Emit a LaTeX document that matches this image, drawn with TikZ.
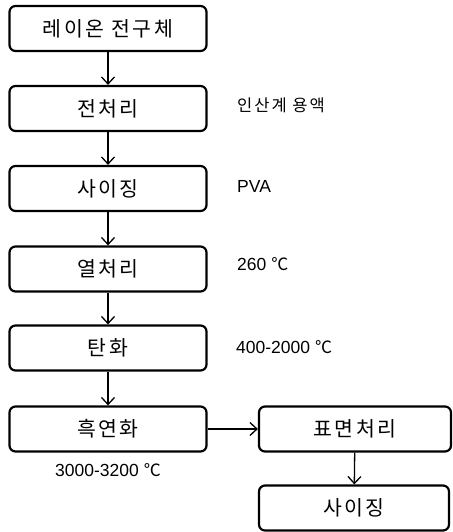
\documentclass[tikz,border=0pt]{standalone}
\usepackage{fontspec}
\setmainfont{Liberation Sans}
\newfontfamily\kr{Noto Sans CJK KR}
\newfontfamily\krwide{Noto Sans CJK KR}[LetterSpace=12]
\newcommand\degc{{\kr\fontsize{17}{20}\selectfont ℃}}
\usetikzlibrary{arrows.meta}
\begin{document}
\begin{tikzpicture}[x=1pt,y=-1pt,
  stepbox/.style={draw, line width=2.2pt, rounded corners=6pt, minimum width=197pt, minimum height=45pt, inner sep=0pt, font=\krwide\fontsize{20.5}{24}\selectfont},
  flow/.style={line width=1.3pt, -{Straight Barb[length=7pt,width=13pt,line width=1.3pt]}},
  note/.style={anchor=west, inner sep=0pt, font=\fontsize{17.5}{21}\selectfont}]
\useasboundingbox (0,0) rectangle (452,532);
\node[stepbox] (s1) at (108,28.5) {레이온 전구체};
\node[stepbox] (s2) at (108,108.5) {전처리};
\node[stepbox] (s3) at (108,188.5) {사이징};
\node[stepbox] (s4) at (108,269) {열처리};
\node[stepbox] (s5) at (108,348) {탄화};
\node[stepbox] (s6) at (108,429) {흑연화};
\node[stepbox, minimum width=192pt] (s7) at (355,429) {표면처리};
\node[stepbox, minimum width=190pt] (s8) at (354,508) {사이징};
\draw[flow] (s1) -- (s2);
\draw[flow] (s2) -- (s3);
\draw[flow] (s3) -- (s4);
\draw[flow] (s4) -- (s5);
\draw[flow] (s5) -- (s6);
\draw[flow] (s6) -- (s7);
\draw[flow] (s7) -- (s8);
\node[note, font=\krwide\fontsize{16.5}{20}\selectfont] (n1) at (237,105) {인산계 용액};
\node[note] (n2) at (237,186) {PVA};
\node[note] (n3) at (237,264) {260 \degc};
\node[note] (n4) at (236,347) {400-2000 \degc};
\node[note] (n5) at (55,470) {3000-3200 \degc};
\end{tikzpicture}
\end{document}
